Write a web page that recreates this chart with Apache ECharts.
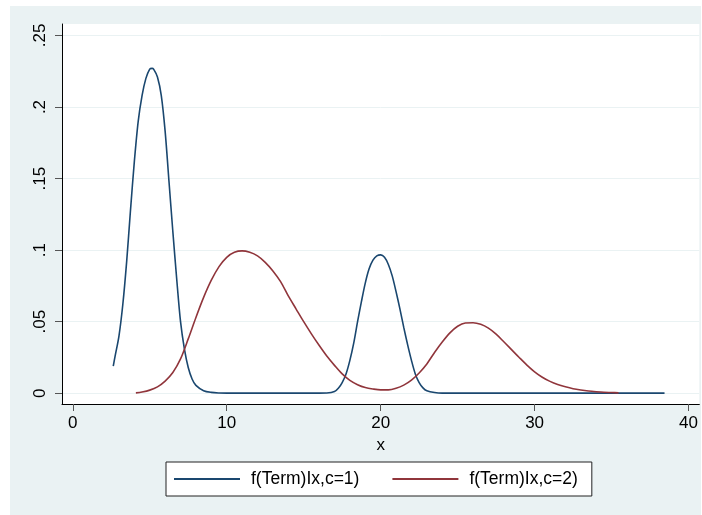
<!DOCTYPE html>
<html>
<head>
<meta charset="utf-8">
<script src="https://cdn.jsdelivr.net/npm/echarts@6/dist/echarts.min.js"></script>
<style>
  html, body { margin: 0; padding: 0; background: #fff; }
  #main { position: absolute; left: 10px; top: 6px; width: 691px; height: 509px; }
</style>
</head>
<body>
<div id="main"></div>
<script>
// values
var xTicks = [0, 10, 20, 30, 40];
var yTicks = [0, 0.05, 0.1, 0.15, 0.2, 0.25];
var seriesNames = ['f(Term)Ix,c=1)', 'f(Term)Ix,c=2)'];

var x1 = [2.63, 2.75, 3.0, 3.25, 3.5, 3.75, 4.0, 4.25, 4.5, 4.75, 5.0, 5.15, 5.25, 5.5, 5.75, 6.0, 6.25, 6.5, 6.75, 7.0, 7.25, 7.5, 7.75, 8.0, 8.5, 9.0, 9.5, 10, 12, 14, 16, 16.5,
          17.0, 17.25, 17.5, 17.75, 18.0, 18.25, 18.5, 18.75, 19.0, 19.25, 19.5, 19.75, 20.0, 20.25, 20.5, 20.75, 21.0, 21.25, 21.5, 21.75, 22.0, 22.25, 22.5, 22.75, 23.0, 23.5, 24, 27, 31, 35, 38.44];
var y1 = [0.019, 0.026, 0.040, 0.062, 0.092, 0.128, 0.162, 0.190, 0.208, 0.220, 0.2265, 0.227, 0.2265, 0.221, 0.208, 0.183, 0.148, 0.113, 0.080, 0.050, 0.031, 0.018, 0.010, 0.0055, 0.0018, 0.0006, 0.0002, 0.0001, 0.0001, 0.0001, 0.0001, 0.0002,
          0.0012, 0.0035, 0.0075, 0.0135, 0.023, 0.035, 0.050, 0.064, 0.077, 0.087, 0.093, 0.096, 0.0967, 0.095, 0.090, 0.082, 0.071, 0.059, 0.046, 0.034, 0.023, 0.0135, 0.0075, 0.0038, 0.0018, 0.0005, 0.0001, 0.0001, 0.0001, 0.0001, 0.0001];

var x2 = [4.1, 4.5, 5.0, 5.5, 6.0, 6.5, 7.0, 7.5, 8.0, 8.5, 9.0, 9.5, 10.0, 10.5, 11.0, 11.5, 12.0, 12.5, 13.0, 13.5, 14.0, 14.5, 15.0, 15.5, 16.0, 16.5, 17.0, 17.5, 18.0, 18.5, 19.0, 19.5,
          20.0, 20.5, 21.0, 21.5, 22.0, 22.5, 23.0, 23.5, 24.0, 24.5, 25.0, 25.5, 26.0, 26.5, 27.0, 27.5, 28.0, 28.5, 29.0, 29.5, 30.0, 30.5, 31.0, 31.5, 32.0, 32.5, 33.0, 33.5, 34.0, 34.5, 35.0, 35.45];
var y2 = [0.0003, 0.0009, 0.0022, 0.0045, 0.0085, 0.0145, 0.024, 0.038, 0.053, 0.067, 0.079, 0.0885, 0.095, 0.0985, 0.0995, 0.0985, 0.096, 0.0915, 0.0855, 0.078, 0.068, 0.059, 0.050, 0.0415, 0.0335, 0.026, 0.0195, 0.0135, 0.009, 0.006, 0.004, 0.003,
          0.0024, 0.0024, 0.0035, 0.0057, 0.0092, 0.0142, 0.0205, 0.0285, 0.0358, 0.0422, 0.0468, 0.0491, 0.0493, 0.0482, 0.0455, 0.0413, 0.0360, 0.0305, 0.0250, 0.0197, 0.0150, 0.0112, 0.0083, 0.0061, 0.0045, 0.0032, 0.0023, 0.0016, 0.0011, 0.0007, 0.0005, 0.0003];

function pairs(xs, ys) {
  return xs.map(function (x, i) { return [x, ys[i]]; });
}

var chart = echarts.init(document.getElementById('main'));
var font = 'Liberation Sans, Arial, sans-serif';

var option = {
  backgroundColor: '#EAF2F3',
  animation: false,
  textStyle: { fontFamily: font },
  grid: {
    left: 52, top: 18, right: 1, bottom: 111,
    show: true, backgroundColor: '#ffffff', borderWidth: 0
  },
  xAxis: {
    type: 'value',
    min: -0.7, max: 40.7,
    name: 'x', nameLocation: 'middle', nameGap: 27,
    nameTextStyle: { color: '#000', fontSize: 17, fontFamily: font },
    axisLine: { show: true, onZero: false, lineStyle: { color: '#000', width: 1 } },
    axisTick: { show: true, length: 7, customValues: xTicks, lineStyle: { color: '#555' } },
    axisLabel: { customValues: xTicks, margin: 11, color: '#000', fontSize: 17, fontFamily: font },
    splitLine: { show: false }
  },
  yAxis: {
    type: 'value',
    min: -0.0075, max: 0.258,
    axisLine: { show: true, onZero: false, lineStyle: { color: '#000', width: 1 } },
    axisTick: { show: true, length: 7, customValues: yTicks, lineStyle: { color: '#555' } },
    axisLabel: {
      customValues: yTicks, rotate: 90, margin: 13, color: '#000', fontSize: 17, fontFamily: font,
      formatter: function (v) { return v === 0 ? '0' : String(v).replace(/^0/, ''); }
    },
    splitLine: { show: true, lineStyle: { color: '#EAF2F3', width: 1 } }
  },
  legend: {
    left: 156, top: 456,
    orient: 'horizontal',
    backgroundColor: '#fff', borderColor: '#222', borderWidth: 1, borderRadius: 0,
    padding: [8, 14, 8, 8],
    itemWidth: 66, itemHeight: 2, itemGap: 33,
    icon: 'rect',
    textStyle: { color: '#000', fontSize: 17.5, fontFamily: font, padding: [0, 0, 0, 6], lineHeight: 18 },
    data: seriesNames
  },
  series: [
    {
      name: seriesNames[0], type: 'line', data: pairs(x1, y1),
      showSymbol: false, smooth: 0.3,
      lineStyle: { color: '#1A476F', width: 1.6 }, itemStyle: { color: '#1A476F' }
    },
    {
      name: seriesNames[1], type: 'line', data: pairs(x2, y2),
      showSymbol: false, smooth: 0.3,
      lineStyle: { color: '#90353B', width: 1.6 }, itemStyle: { color: '#90353B' }
    }
  ]
};

chart.setOption(option);
window.addEventListener('resize', function () { chart.resize(); });
</script>
</body>
</html>
